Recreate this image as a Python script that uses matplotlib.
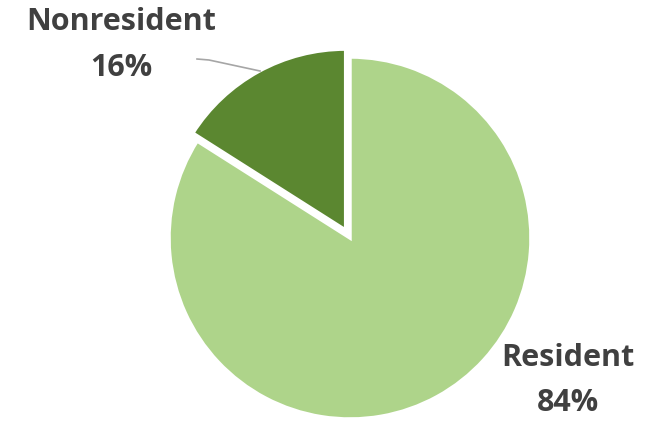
import matplotlib.pyplot as plt

labels = ['Resident', 'Nonresident']
shares = [84, 16]
colors = ['#AED48A', '#5B8730']

W, H = 662, 422

fig = plt.figure(figsize=(W / 100, H / 100), dpi=100)
ax = fig.add_axes([0, 0, 1, 1])

# axes in pixel units; explode is an absolute offset in data units here
ax.pie(shares, colors=colors, explode=[0, 9], startangle=90, counterclock=False,
       center=(350, H - 238), radius=181, frame=True,
       wedgeprops=dict(edgecolor='white', linewidth=2.5))
ax.set_xlim(0, W)
ax.set_ylim(0, H)
ax.set_aspect('equal')
ax.axis('off')

font = dict(family=['Open Sans', 'DejaVu Sans'], fontweight='bold', fontsize=22,
            color='#404040', ha='center', va='center')

ax.text(121, H - 22, labels[1], **font)
ax.text(121, H - 68, f'{shares[1]}%', **font)
ax.text(568, H - 358, labels[0], **font)
ax.text(568, H - 403, f'{shares[0]}%', **font)

# leader line for the small slice
ax.plot([197, 209, 260], [H - 59, H - 60, H - 71], color='#A6A6A6', linewidth=1.2)

fig.savefig('out.png', dpi=100, facecolor='white')
